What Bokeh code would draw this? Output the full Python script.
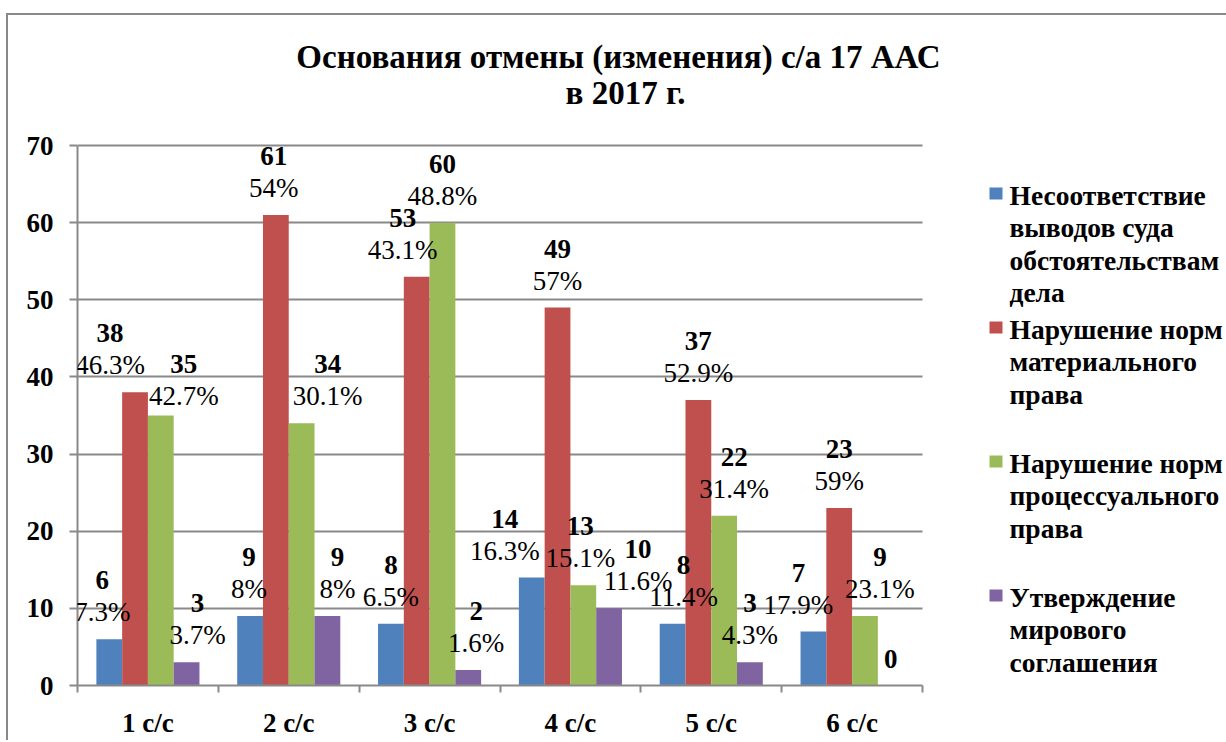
from bokeh.plotting import figure
from bokeh.models import Range1d, FixedTicker, ColumnDataSource, LabelSet, Label, BoxAnnotation, Grid
from bokeh.embed import file_html
from bokeh.resources import INLINE

# ---------------- data ----------------
categories = ["1 с/с", "2 с/с", "3 с/с", "4 с/с", "5 с/с", "6 с/с"]
series_names = [
    "Несоответствие выводов суда обстоятельствам дела",
    "Нарушение норм материального права",
    "Нарушение норм процессуального права",
    "Утверждение мирового соглашения",
]
legend_lines = [
    ["Несоответствие", "выводов суда", "обстоятельствам", "дела"],
    ["Нарушение норм", "материального", "права"],
    ["Нарушение норм", "процессуального", "права"],
    ["Утверждение", "мирового", "соглашения"],
]
values_mismatch = [6, 9, 8, 14, 8, 7]
values_material = [38, 61, 53, 49, 37, 23]
values_procedural = [35, 34, 60, 13, 22, 9]
values_settlement = [3, 9, 2, 10, 3, 0]
pct_mismatch = ["7.3%", "8%", "6.5%", "16.3%", "11.4%", "17.9%"]
pct_material = ["46.3%", "54%", "43.1%", "57%", "52.9%", "59%"]
pct_procedural = ["42.7%", "30.1%", "48.8%", "15.1%", "31.4%", "23.1%"]
pct_settlement = ["3.7%", "8%", "1.6%", "11.6%", "4.3%", ""]
yticks = [0, 10, 20, 30, 40, 50, 60, 70]
y_max = 70
title_lines = ["Основания отмены (изменения) с/а 17 ААС", "в 2017 г."]

# ---------------- styles ----------------
colors = ["#4F81BD", "#C0504D", "#9BBB59", "#8064A2"]
FONT = '"Liberation Serif"'
GRAY = "#898989"
# manual label nudges (pixels), like dragged Excel labels
label_dx = [
    [-7, -1, 0, -27, 11, -15],
    [-25, -2, -14, 0, 0, 0],
    [23, 26, 0, -3, 10, 15],
    [11, 10, 8, 29, 0, 0],
]
label_dy = [
    [0, 0, 0, 0, 0, 0],
    [0, 0, 0, 0, 0, 0],
    [-7, 0, 0, 0, 0, 0],
    [0, 0, 0, 0, 0, 0],
]
title_dx = [0, 7]

series_vals = [values_mismatch, values_material, values_procedural, values_settlement]
series_pct = [pct_mismatch, pct_material, pct_procedural, pct_settlement]

n = len(categories)
BW = 0.183

# chart area geometry (pixels)
PLOT_W = 845.0      # width of the 6 categories
PLOT_H = 540.0      # height of 0..70
FRAME_W = 1149
FRAME_H = 670
x_end = FRAME_W / (PLOT_W / n)
y_end = FRAME_H / (PLOT_H / y_max)

p = figure(frame_width=FRAME_W, frame_height=FRAME_H,
           min_border_left=69, min_border_right=0, min_border_top=0, min_border_bottom=55,
           x_range=Range1d(0, x_end), y_range=Range1d(0, y_end),
           output_backend="svg", toolbar_location=None, tools="")
p.outline_line_color = None
p.background_fill_color = "white"
p.border_fill_color = "white"
p.styles = {"margin-left": "6px", "margin-top": "13px",
            "border-left": "2px solid #898989", "border-top": "2px solid #898989"}

p.xgrid.visible = False
p.ygrid.ticker = FixedTicker(ticks=yticks)
p.ygrid.grid_line_color = GRAY
p.ygrid.grid_line_width = 2
if "cross_bounds" in Grid.properties():
    p.ygrid.cross_bounds = (0, n)
else:
    p.ygrid.visible = False
    p.segment(x0=[0] * len(yticks), x1=[n] * len(yticks), y0=yticks, y1=yticks,
              line_color=GRAY, line_width=2, level="underlay")

# y axis
p.yaxis.bounds = (0, y_max)
p.yaxis.ticker = FixedTicker(ticks=yticks)
p.yaxis.axis_line_color = GRAY
p.yaxis.axis_line_width = 2
p.yaxis.major_tick_line_color = GRAY
p.yaxis.major_tick_line_width = 2
p.yaxis.major_tick_out = 8
p.yaxis.major_tick_in = 0
p.yaxis.minor_tick_line_color = None
p.yaxis.major_label_text_font = FONT
p.yaxis.major_label_text_font_style = "bold"
p.yaxis.major_label_text_font_size = "27px"
p.yaxis.major_label_text_color = "black"
p.yaxis.major_label_standoff = 16

# x axis: labels at category centres, ticks at boundaries
centers = [i + 0.5 for i in range(n)]
p.xaxis.bounds = (0, n)
p.xaxis.ticker = FixedTicker(ticks=centers, minor_ticks=list(range(n + 1)))
p.xaxis.major_label_overrides = {c: categories[i] for i, c in enumerate(centers)}
p.xaxis.axis_line_color = GRAY
p.xaxis.axis_line_width = 2
p.xaxis.major_tick_line_color = None
p.xaxis.major_tick_out = 0
p.xaxis.major_tick_in = 0
p.xaxis.minor_tick_line_color = GRAY
p.xaxis.minor_tick_line_width = 2
p.xaxis.minor_tick_out = 7
p.xaxis.minor_tick_in = 0
p.xaxis.major_label_text_font = FONT
p.xaxis.major_label_text_font_style = "bold"
p.xaxis.major_label_text_font_size = "27px"
p.xaxis.major_label_text_color = "black"
p.xaxis.major_label_standoff = 15

# bars and labels
for j, (vals, pcts) in enumerate(zip(series_vals, series_pct)):
    xs = [i + 0.5 + (j - 1.5) * BW for i in range(n)]
    p.vbar(x=xs, top=vals, width=BW, fill_color=colors[j], line_color=None)
    vsrc = ColumnDataSource(dict(
        x=xs, y=vals, t=[str(v) for v in vals], dx=label_dx[j],
        dy=[(59 if pcts[i] else 27) + label_dy[j][i] for i in range(n)]))
    p.add_layout(LabelSet(source=vsrc, x="x", y="y", text="t", x_offset="dx", y_offset="dy",
                          text_align="center", text_baseline="middle", text_font=FONT,
                          text_font_style="bold", text_font_size="27px", text_color="black"))
    idx = [i for i in range(n) if pcts[i]]
    psrc = ColumnDataSource(dict(
        x=[xs[i] for i in idx], y=[vals[i] for i in idx], t=[pcts[i] for i in idx],
        dx=[label_dx[j][i] for i in idx], dy=[27 + label_dy[j][i] for i in idx]))
    p.add_layout(LabelSet(source=psrc, x="x", y="y", text="t", x_offset="dx", y_offset="dy",
                          text_align="center", text_baseline="middle", text_font=FONT,
                          text_font_size="27px", text_color="black"))

# title (screen units relative to the frame's bottom-left corner)
for k, line in enumerate(title_lines):
    p.add_layout(Label(x=541 + title_dx[k], y=629 - 36 * k, x_units="screen", y_units="screen",
                       text=line, text_align="center", text_baseline="middle", text_font=FONT,
                       text_font_style="bold", text_font_size="33px", text_color="black"))

# legend
for j, lines in enumerate(legend_lines):
    top_center = 490 - 134 * j
    p.add_layout(BoxAnnotation(left=912, right=925, top=top_center + 8, bottom=top_center - 4,
                               left_units="screen", right_units="screen",
                               top_units="screen", bottom_units="screen",
                               fill_color=colors[j], fill_alpha=1, line_color=None, level="overlay"))
    for k, line in enumerate(lines):
        p.add_layout(Label(x=932, y=top_center - 32.3 * k, x_units="screen", y_units="screen",
                           text=line, text_align="left", text_baseline="middle", text_font=FONT,
                           text_font_style="bold", text_font_size="27.5px", text_color="black"))

open("out.html", "w").write(file_html(p, INLINE))
